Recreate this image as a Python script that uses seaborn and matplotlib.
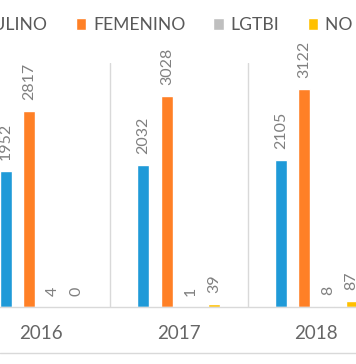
import matplotlib
matplotlib.use("Agg")
import matplotlib.pyplot as plt
import seaborn as sns
import pandas as pd
from matplotlib.lines import Line2D

years = ["2016", "2017", "2018"]
series = ["MASCULINO", "FEMENINO", "LGTBI", "NO INFORMA"]
masculino = [1952, 2032, 2105]
femenino = [2817, 3028, 3122]
lgtbi = [4, 1, 8]
no_informa = [0, 39, 87]
colors = ["#1F9AD8", "#FF8026", "#BFBFBF", "#FFC000"]

rows = []
for name, vals in zip(series, [masculino, femenino, lgtbi, no_informa]):
    for y, v in zip(years, vals):
        rows.append({"Año": y, "Serie": name, "Valor": v})
df = pd.DataFrame(rows)

sns.set_theme(style="white")
plt.rcParams["font.family"] = ["Lato", "DejaVu Sans"]

W, H = 356, 364
fig = plt.figure(figsize=(W / 100, H / 100), dpi=100)
# plot area extends beyond the visible canvas (cropped reference)
left_px, right_px = -27.5, 385.0
top_px, base_px = 63.0, 307.0
ax = fig.add_axes([left_px / W, (H - base_px) / H,
                   (right_px - left_px) / W, (base_px - top_px) / H])

sns.barplot(data=df, x="Año", y="Valor", hue="Serie", hue_order=series,
            order=years, palette=colors, width=0.684, gap=0.49,
            saturation=1, ax=ax, legend=True)

ax.set_xlim(-0.5, 2.5)
ax.set_ylim(0, 3500)
ax.set_xlabel("")
ax.set_ylabel("")
ax.set_yticks([])
for s in ["top", "right", "left"]:
    ax.spines[s].set_visible(False)
ax.spines["bottom"].set_color("#D9D9D9")
ax.spines["bottom"].set_linewidth(1)
ax.tick_params(axis="x", length=0, pad=13, labelsize=13.5, labelcolor="#666666")

for xs in [0.5, 1.5]:
    ax.axvline(xs, color="#D9D9D9", lw=1, zorder=0)

for cont in ax.containers:
    ax.bar_label(cont, rotation=90, padding=8, fontsize=11.5, color="#808080")

handles, labels = ax.get_legend_handles_labels()
ax.get_legend().remove()
leg = fig.legend(handles, labels, loc="center", ncol=4, frameon=False,
                 bbox_to_anchor=(0.5, 1 - 25 / H), fontsize=12.6,
                 handlelength=0.62, handleheight=0.62, handletextpad=0.38,
                 columnspacing=1.6, labelcolor="#595959")

fig.canvas.draw()
r = fig.canvas.get_renderer()
txt = [t for t in leg.get_texts() if t.get_text() == "FEMENINO"][0]
bb = txt.get_window_extent(r)
shift = (93 - bb.x0) / W
leg.set_bbox_to_anchor((0.5 + shift, 1 - 25 / H), transform=fig.transFigure)

fig.add_artist(Line2D([0, 1], [(H - 353) / H] * 2, transform=fig.transFigure,
                      color="#D9D9D9", lw=1))

fig.savefig("out.png", dpi=100)
